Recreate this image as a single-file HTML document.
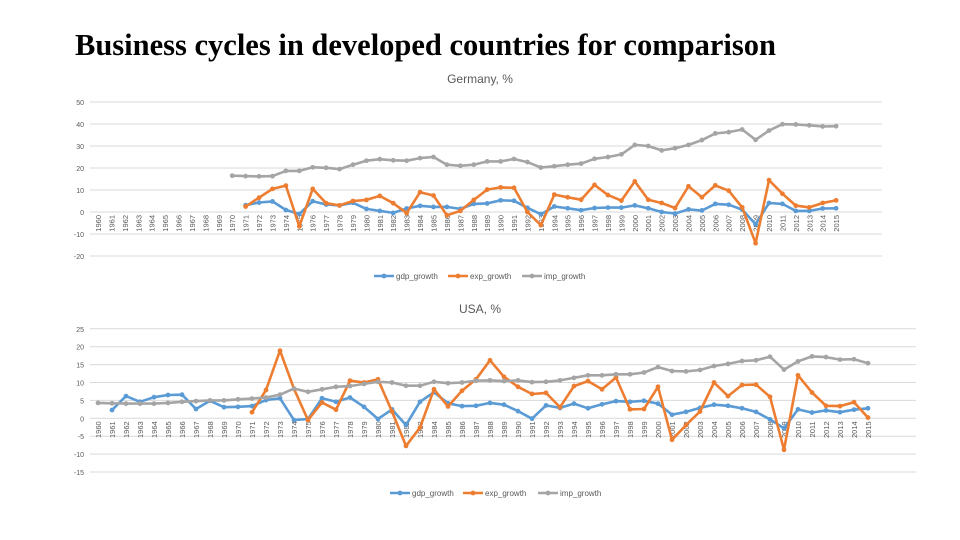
<!DOCTYPE html>
<html><head><meta charset="utf-8"><style>
html,body{margin:0;padding:0;background:#fff;width:960px;height:540px;overflow:hidden}
svg{display:block}
</style></head><body>
<svg id="s" width="960" height="540" xmlns="http://www.w3.org/2000/svg">
<text x="75" y="55" font-family="Liberation Serif, serif" font-weight="bold" font-size="30.5" fill="#000">Business cycles in developed countries for comparison</text>
</svg>
<script>
const years = []; for (let y = 1960; y <= 2015; y++) years.push(y);
const N = null;
const deGdp = [N,N,N,N,N,N,N,N,N,N,N,3.1,4.3,4.8,0.9,-0.9,4.9,3.4,3,4.2,1.4,0.5,-0.4,1.6,2.8,2.3,2.3,1.4,3.7,3.9,5.3,5.1,1.9,-1,2.5,1.7,0.8,1.8,2,2,3,1.7,0,-0.7,1.2,0.7,3.7,3.3,1.1,-5.6,4.1,3.7,0.5,0.5,1.6,1.7];
const deExp = [N,N,N,N,N,N,N,N,N,N,N,2.5,6.5,10.5,12,-6.5,10.5,4,3,5,5.5,7.3,4,-0.5,9,7.5,-1.5,0.5,5.5,10.2,11.2,11,0,-6,7.9,6.7,5.6,12.3,7.7,5.2,13.9,5.6,4.1,1.8,11.7,6.7,12.1,9.7,2.1,-14.2,14.5,8.3,2.9,2.1,4.1,5.3];
const deImp = [N,N,N,N,N,N,N,N,N,N,16.5,16.3,16.2,16.3,18.7,18.7,20.3,20.1,19.5,21.5,23.3,24,23.5,23.3,24.5,25,21.5,21,21.5,23,23,24.1,22.7,20.2,20.8,21.5,22,24.2,25,26.2,30.5,30,28,29,30.5,32.7,35.7,36.3,37.5,32.8,37,39.9,39.8,39.4,38.9,39];
const usGdp = [N,2.3,6.2,4.6,5.9,6.5,6.6,2.6,4.9,3.1,3.2,3.4,5.1,5.6,-0.5,-0.2,5.6,4.6,5.8,3.2,-0.2,2.5,-1.9,4.6,7.3,4.2,3.4,3.5,4.3,3.8,2,-0.1,3.6,2.9,4.1,2.8,3.9,4.8,4.6,4.9,4.1,1,1.8,2.9,3.8,3.5,2.8,1.8,-0.3,-2.8,2.5,1.6,2.2,1.7,2.4,2.8];
const usExp = [N,N,N,N,N,N,N,N,N,N,N,1.7,7.9,18.9,8.2,-0.5,4.4,2.4,10.5,10,10.9,1.9,-7.7,-2.6,8.1,3.3,7.7,10.9,16.2,11.6,8.8,6.8,7.1,3.1,9,10.4,8.1,11.4,2.5,2.6,8.8,-6,-1.9,1.9,10,6.2,9.3,9.4,6,-8.8,12,7.2,3.5,3.4,4.5,0.2];
const usImp = [4.3,4.2,4.1,4.1,4.1,4.3,4.6,4.8,5,5,5.3,5.5,5.8,6.6,8.3,7.4,8.1,8.8,9,9.6,10.2,10,9.1,9.1,10.2,9.8,10,10.5,10.6,10.4,10.6,10.1,10.2,10.6,11.3,12,12,12.3,12.3,12.8,14.3,13.2,13.1,13.5,14.6,15.2,16,16.2,17.2,13.6,15.9,17.3,17.1,16.4,16.5,15.4];
const deTicks = [50,40,30,20,10,0,-10,-20];
const usTicks = [25,20,15,10,5,0,-5,-10,-15];
const names = ['gdp_growth','exp_growth','imp_growth'];
const colors = ['#5b9bd5','#ed7d31','#a5a5a5'];

const svg = document.getElementById('s');
const NS = 'http://www.w3.org/2000/svg';
function mk(tag, attrs, parent){const e=document.createElementNS(NS,tag);for(const k in attrs)e.setAttribute(k,attrs[k]);(parent||svg).appendChild(e);return e;}

function chart(cfg){
  const g = mk('g',{});
  
  
  const yS = v => cfg.y0 - (v) * cfg.ppu;
  const xS = i => cfg.x0 + i * cfg.dx;
  const t = mk('text',{x:480,y:cfg.titleY,'text-anchor':'middle','font-family':'Liberation Sans, sans-serif','font-size':12,fill:'#595959'},g);
  t.textContent = cfg.title;
  
  
  cfg.ticks.forEach(v => {
    const l = mk('line',{x1:90,x2:cfg.gridEnd,y1:yS(v),y2:yS(v),stroke:'#d9d9d9','stroke-width':1},g);
    
    
    const tx = mk('text',{x:84,y:yS(v)+3,'text-anchor':'end','font-family':'Liberation Sans, sans-serif','font-size':7,fill:'#595959'},g);
    tx.textContent = v;
    
    
  });
  years.forEach((yr,i) => {
    const x = xS(i), y = yS(0) + 3;
    const tx = mk('text',{x:0,y:0,transform:`translate(${x+3},${y}) rotate(-90)`,'text-anchor':'end','font-family':'Liberation Sans, sans-serif','font-size':7.5,fill:'#595959'},g);
    tx.textContent = yr;
    
    
  });
  cfg.series.forEach((ser,si) => {
    let d = '', pen = false;
    ser.forEach((v,i) => { if (v === null) { pen = false; return; } d += (pen?'L':'M') + xS(i).toFixed(1) + ',' + yS(v).toFixed(1); pen = true; });
    const p = mk('path',{d:d,fill:'none',stroke:colors[si],'stroke-width':2.6,'stroke-linejoin':'round'},g);
    
    
    ser.forEach((v,i) => { if (v === null) return;
      const c = mk('circle',{cx:xS(i),cy:yS(v),r:2.4,fill:colors[si]},g);
      
      
    });
  });
  cfg.legendX.forEach((lx,si) => {
    const lg = mk('g',{},g);
    
    
    mk('line',{x1:lx,x2:lx+20,y1:cfg.legendY,y2:cfg.legendY,stroke:colors[si],'stroke-width':2.6},lg);
    mk('circle',{cx:lx+10,cy:cfg.legendY,r:2.4,fill:colors[si]},lg);
    const tx = mk('text',{x:lx+22,y:cfg.legendY+3,'font-family':'Liberation Sans, sans-serif','font-size':8,fill:'#595959'},lg);
    tx.textContent = names[si];
  });
}
chart({id:'germany-chart',title:'Germany, %',titleY:83,ticks:deTicks,y0:212,ppu:2.2,x0:98,dx:13.42,gridEnd:882,
  series:[deGdp,deExp,deImp],legendX:[374,448,522],legendY:276});
chart({id:'usa-chart',title:'USA, %',titleY:313,ticks:usTicks,y0:418.3,ppu:3.58,x0:98,dx:14.0,gridEnd:916,
  series:[usGdp,usExp,usImp],legendX:[390,463,538],legendY:493});
</script>
</body></html>
